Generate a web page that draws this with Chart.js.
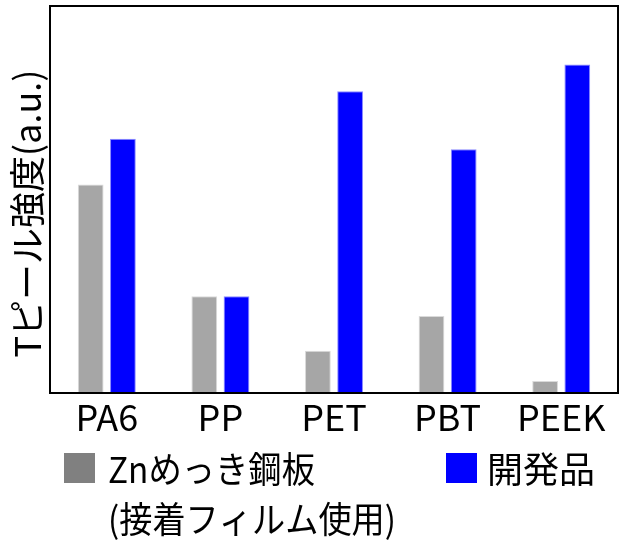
<!DOCTYPE html>
<html><head><meta charset="utf-8">
<script src="https://cdn.jsdelivr.net/npm/chart.js@4.4.1/dist/chart.umd.min.js"></script>
<style>html,body{margin:0;padding:0;background:#fff;} canvas{display:block}</style>
</head><body>
<canvas id="c" width="620" height="540"></canvas>
<script>
const categories = ['PA6', 'PP', 'PET', 'PBT', 'PEEK'];
const znValues = [53.9, 25.0, 10.9, 19.9, 3.1];
const devValues = [65.7, 25.0, 78.0, 63.0, 84.9];
const znLabel = ['Znめっき鋼板', '(接着フィルム使用)'];
const devLabel = ['開発品'];
const yTitle = 'Tピール強度(a.u.)';
const yMin = 0;
const yMax = 100;

const FONT = '"Noto Sans CJK JP", "Noto Sans", sans-serif';

const framePlugin = {
  id: 'frame',
  afterDatasetsDraw(chart) {
    const {ctx, chartArea: a} = chart;
    ctx.save();
    ctx.strokeStyle = '#000';
    ctx.lineWidth = 2;
    ctx.strokeRect(a.left, a.top, a.right - a.left, a.bottom - a.top);
    ctx.restore();
  }
};

const yTitlePlugin = {
  id: 'yTitle',
  afterDraw(chart) {
    const {ctx} = chart;
    ctx.save();
    ctx.translate(27, 213.5);
    ctx.rotate(-Math.PI / 2);
    ctx.font = '36px ' + FONT;
    ctx.fillStyle = '#000';
    ctx.textAlign = 'center';
    ctx.textBaseline = 'middle';
    ctx.fillText(yTitle, 0, 0, 290);
    ctx.restore();
  }
};

const legendPlugin = {
  id: 'customLegend',
  afterDraw(chart) {
    const {ctx} = chart;
    const items = [
      {ds: chart.data.datasets[0], bx: 64, tx: 108, w: [207, 288]},
      {ds: chart.data.datasets[1], bx: 446, tx: 487, w: [110]}
    ];
    ctx.save();
    ctx.font = '36px ' + FONT;
    ctx.textBaseline = 'middle';
    ctx.textAlign = 'left';
    items.forEach(it => {
      ctx.fillStyle = it.ds.legendColor;
      ctx.fillRect(it.bx, 453, 31, 30);
      ctx.fillStyle = '#000';
      const lines = Array.isArray(it.ds.label) ? it.ds.label : [it.ds.label];
      lines.forEach((t, i) => ctx.fillText(t, it.tx, 469 + i * 50, it.w[i]));
    });
    ctx.restore();
  }
};

new Chart(document.getElementById('c'), {
  type: 'bar',
  data: {
    labels: categories,
    datasets: [
      {
        label: znLabel,
        data: znValues,
        backgroundColor: '#a6a6a6',
        borderColor: '#dadada',
        borderWidth: 1,
        legendColor: '#808080',
        categoryPercentage: 0.567,
        barPercentage: 0.8
      },
      {
        label: devLabel,
        data: devValues,
        backgroundColor: '#0000ff',
        borderColor: '#8a8aff',
        borderWidth: 1,
        legendColor: '#0000ff',
        categoryPercentage: 0.567,
        barPercentage: 0.8
      }
    ]
  },
  options: {
    responsive: false,
    animation: false,
    devicePixelRatio: 1,
    layout: {padding: {left: 50, top: 6, right: 2, bottom: 0}},
    plugins: {
      legend: {display: false},
      tooltip: {enabled: false},
      title: {display: false}
    },
    scales: {
      x: {
        grid: {display: false, drawTicks: false},
        border: {display: false},
        ticks: {
          color: '#000',
          padding: 3,
          font: {family: FONT, size: 36}
        },
        afterFit(s) { s.height = 147; }
      },
      y: {
        display: false,
        min: yMin,
        max: yMax
      }
    }
  },
  plugins: [framePlugin, yTitlePlugin, legendPlugin]
});
</script>
</body></html>
